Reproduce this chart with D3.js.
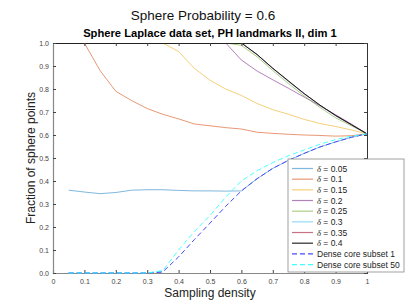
<!DOCTYPE html>
<html>
<head>
<meta charset="utf-8">
<script src="https://cdn.jsdelivr.net/npm/d3@7"></script>
<style>
  body { margin: 0; background: #fff; }
  text { font-family: "Liberation Sans", Arial, sans-serif; }
</style>
</head>
<body>
<svg id="chart"></svg>
<script>
// sampling densities (x)
var density = [0.05, 0.1, 0.15, 0.2, 0.25, 0.3, 0.35, 0.4, 0.45, 0.5,
               0.55, 0.6, 0.65, 0.7, 0.75, 0.8, 0.85, 0.9, 0.95, 1];

// fraction of sphere points, one array per delta
var d005 = [0.36, 0.352, 0.345, 0.35, 0.36, 0.362, 0.362, 0.359, 0.357, 0.357,
            0.356, 0.357, 0.41, 0.455, 0.49, 0.52, 0.548, 0.57, 0.59, 0.605];
var d010 = [1, 1, 0.88, 0.79, 0.75, 0.715, 0.69, 0.67, 0.648, 0.64,
            0.632, 0.626, 0.612, 0.607, 0.603, 0.6, 0.598, 0.595, 0.597, 0.605];
var d015 = [1, 1, 1, 1, 1, 1, 1, 0.963, 0.89, 0.838,
            0.8, 0.772, 0.737, 0.71, 0.69, 0.668, 0.65, 0.637, 0.622, 0.605];
var d020 = [1, 1, 1, 1, 1, 1, 1, 1, 1, 1,
            1, 0.926, 0.878, 0.84, 0.803, 0.765, 0.727, 0.688, 0.648, 0.605];
var d025 = [1, 1, 1, 1, 1, 1, 1, 1, 1, 1,
            1, 0.99, 0.94, 0.88, 0.823, 0.77, 0.72, 0.675, 0.64, 0.605];
var d030 = [1, 1, 1, 1, 1, 1, 1, 1, 1, 1,
            1, 1, 0.948, 0.888, 0.832, 0.778, 0.728, 0.683, 0.644, 0.605];
var d035 = [1, 1, 1, 1, 1, 1, 1, 1, 1, 1,
            1, 1, 0.95, 0.89, 0.834, 0.78, 0.73, 0.685, 0.645, 0.605];
var d040 = [1, 1, 1, 1, 1, 1, 1, 1, 1, 1,
            1, 1, 0.95, 0.89, 0.835, 0.78, 0.73, 0.685, 0.645, 0.605];

// dense core subsets
var core1  = [0, 0, 0, 0, 0, 0, 0.005, 0.07, 0.145, 0.217,
              0.29, 0.357, 0.41, 0.455, 0.49, 0.52, 0.548, 0.57, 0.59, 0.605];
var core50 = [0, 0, 0, 0, 0, 0, 0.01, 0.1, 0.18, 0.25,
              0.33, 0.4, 0.445, 0.48, 0.51, 0.535, 0.56, 0.58, 0.595, 0.605];

var legendLabels = ["0.05", "0.1", "0.15", "0.2", "0.25", "0.3", "0.35", "0.4",
                    "Dense core subset 1", "Dense core subset 50"];
var xTicks = [0, 0.1, 0.2, 0.3, 0.4, 0.5, 0.6, 0.7, 0.8, 0.9, 1];
var yTicks = [0, 0.1, 0.2, 0.3, 0.4, 0.5, 0.6, 0.7, 0.8, 0.9, 1];

var series = [
  {vals: d005, color: "#0072BD", op: 0.5, dash: null},
  {vals: d010, color: "#D95319", op: 0.6, dash: null},
  {vals: d015, color: "#EDB120", op: 0.6, dash: null},
  {vals: d020, color: "#7E2F8E", op: 0.6, dash: null},
  {vals: d025, color: "#77AC30", op: 0.6, dash: null},
  {vals: d030, color: "#4DBEEE", op: 0.6, dash: null},
  {vals: d035, color: "#A2142F", op: 0.6, dash: null},
  {vals: d040, color: "#111111", op: 0.9, dash: null},
  {vals: core1, color: "#4a4aff", op: 1, dash: "5,3"},
  {vals: core50, color: "#44ffff", op: 1, dash: "5,3"}
];

var width = 407, height = 305;
var margin = {top: 43, right: 40, bottom: 32, left: 53};

var svg = d3.select("#chart")
    .attr("width", width)
    .attr("height", height);

var x = d3.scaleLinear().domain([0, 1]).range([margin.left, width - margin.right]);
var y = d3.scaleLinear().domain([0, 1]).range([height - margin.bottom, margin.top]);

// titles
svg.append("text")
    .attr("x", 203).attr("y", 20)
    .attr("text-anchor", "middle")
    .style("font-size", "13.5px")
    .attr("fill", "#111")
    .text("Sphere Probability = 0.6");

svg.append("text")
    .attr("x", (x(0) + x(1)) / 2).attr("y", 37)
    .attr("text-anchor", "middle")
    .style("font-size", "11.2px")
    .style("font-weight", "bold")
    .attr("fill", "#000")
    .text("Sphere Laplace data set, PH landmarks II, dim 1");

// clip so lines sitting on y = 1 hide under the box
svg.append("clipPath").attr("id", "plotclip")
  .append("rect")
    .attr("x", x(0) - 2).attr("y", y(1) + 0.5)
    .attr("width", x(1) - x(0) + 4).attr("height", y(0) - y(1) + 2);

// lines
var line = d3.line()
    .defined(function(d) { return d[1] !== null; })
    .x(function(d) { return x(d[0]); })
    .y(function(d) { return y(d[1]); });

var plot = svg.append("g").attr("clip-path", "url(#plotclip)");
series.forEach(function(s) {
  plot.append("path")
      .datum(density.map(function(v, i) { return [v, s.vals[i]]; }))
      .attr("fill", "none")
      .attr("stroke", s.color)
      .attr("stroke-opacity", s.op)
      .attr("stroke-width", 1)
      .attr("stroke-dasharray", s.dash)
      .attr("d", line);
});

// axes (MATLAB style box, ticks inside), drawn over the lines
var tickCol = "#444";
svg.append("g")
    .attr("transform", "translate(0," + y(0) + ")")
    .call(d3.axisBottom(x).tickValues(xTicks).tickSize(-3).tickPadding(6)
      .tickFormat(function(d) { return d3.format("")(d); }))
    .call(function(g) {
      g.select(".domain").attr("stroke", "#888").attr("stroke-width", 1.2);
      g.selectAll(".tick line").attr("stroke", tickCol);
      g.selectAll("text").style("font-size", "7px").attr("fill", tickCol);
    });

svg.append("g")
    .attr("transform", "translate(0," + y(1) + ")")
    .call(d3.axisTop(x).tickValues(xTicks).tickSize(-3).tickFormat(""))
    .call(function(g) {
      g.select(".domain").attr("stroke", "#222");
      g.selectAll(".tick line").attr("stroke", tickCol);
    });

svg.append("g")
    .attr("transform", "translate(" + x(0) + ",0)")
    .call(d3.axisLeft(y).tickValues(yTicks).tickSize(-3).tickPadding(4))
    .call(function(g) {
      g.select(".domain").attr("stroke", "#888").attr("stroke-width", 1.2);
      g.selectAll(".tick line").attr("stroke", tickCol);
      g.selectAll("text").style("font-size", "7px").attr("fill", tickCol);
    });

svg.append("g")
    .attr("transform", "translate(" + x(1) + ",0)")
    .call(d3.axisRight(y).tickValues(yTicks).tickSize(-3).tickFormat(""))
    .call(function(g) {
      g.select(".domain").attr("stroke", "#333");
      g.selectAll(".tick line").attr("stroke", tickCol);
    });

// axis labels
svg.append("text")
    .attr("x", (x(0) + x(1)) / 2).attr("y", 297)
    .attr("text-anchor", "middle")
    .style("font-size", "12px")
    .attr("fill", "#222")
    .text("Sampling density");

svg.append("text")
    .attr("transform", "translate(35," + (y(0) + y(1)) / 2 + ") rotate(-90)")
    .attr("text-anchor", "middle")
    .style("font-size", "12px")
    .attr("fill", "#222")
    .text("Fraction of sphere points");

// bottom parts of the dense core lines are drawn over the x axis
var plotBottom = svg.append("g");
series.slice(8).forEach(function(s) {
  plotBottom.append("path")
      .datum(density.slice(0, 7).map(function(v, i) { return [v, s.vals[i]]; }))
      .attr("fill", "none")
      .attr("stroke", s.color)
      .attr("stroke-opacity", s.op)
      .attr("stroke-dasharray", s.dash)
      .attr("d", line);
});

// legend
var lg = svg.append("g").attr("transform", "translate(288,159)");
lg.append("rect")
    .attr("width", 116).attr("height", 113)
    .attr("fill", "#fff")
    .attr("stroke", "#8a8a8a")
    .attr("stroke-width", 0.8);

var rows = lg.selectAll("g.row")
    .data(series)
    .enter().append("g")
    .attr("class", "row")
    .attr("transform", function(d, i) { return "translate(0," + (9.5 + i * 10.67) + ")"; });

rows.append("line")
    .attr("x1", 4).attr("x2", 25)
    .attr("stroke", function(d) { return d.color; })
    .attr("stroke-opacity", function(d) { return d.op; })
    .attr("stroke-width", 1.2)
    .attr("stroke-dasharray", function(d) { return d.dash; });

rows.append("text")
    .attr("x", 29).attr("y", 3)
    .style("font-size", "8.5px")
    .attr("fill", "#222")
    .each(function(d, i) {
      var t = d3.select(this);
      if (i < 8) {
        t.append("tspan").style("font-style", "italic")
          .style("font-family", "'Liberation Serif', serif").text("\u03b4");
        t.append("tspan").text(" = " + legendLabels[i]);
      } else {
        t.text(legendLabels[i]);
      }
    });
</script>
</body>
</html>
